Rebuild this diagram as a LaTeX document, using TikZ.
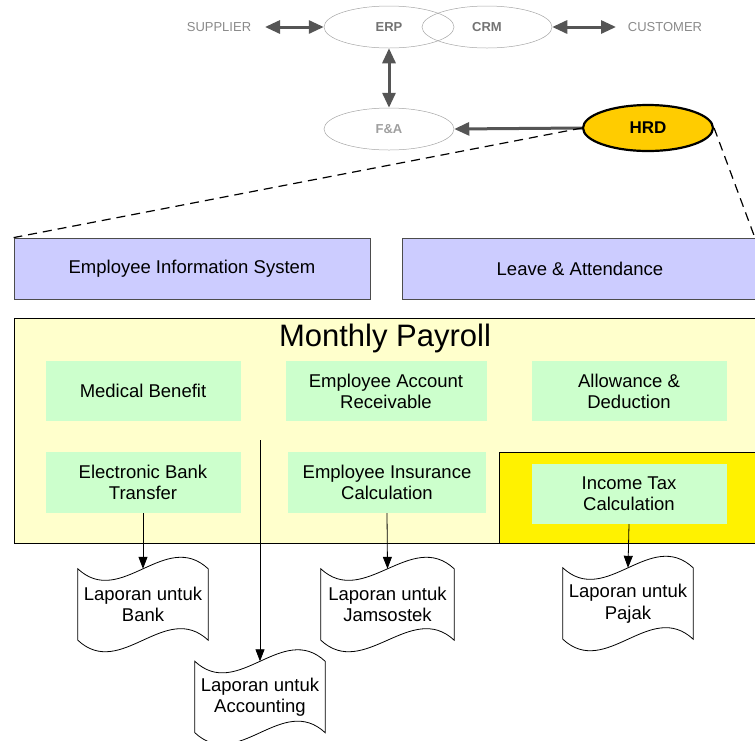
\documentclass[tikz,border=0pt]{standalone}
\usepackage{fontspec}
\setmainfont{Liberation Sans}
\usetikzlibrary{arrows.meta,shapes.geometric}
\definecolor{lav}{HTML}{CCCCFF}
\definecolor{cream}{HTML}{FFFFCC}
\definecolor{mint}{HTML}{CCFFCC}
\definecolor{gold}{HTML}{FFCC00}
\definecolor{txtgray}{HTML}{8A8A8A}
\definecolor{arrgray}{HTML}{555555}
\tikzset{
  sysell/.style={ellipse, draw=gray!70, line width=0.5pt, minimum width=130pt, minimum height=42pt, inner sep=0pt, text=gray!90!black, font=\fontsize{13}{15}\selectfont\bfseries},
  outer/.style={font=\fontsize{13}{15}\selectfont, text=txtgray},
  blockarrow/.style={line width=3pt, draw=arrgray, {Triangle[width=13pt,length=15pt]}-{Triangle[width=13pt,length=15pt]}},
  singleblock/.style={line width=3pt, draw=arrgray, -{Triangle[width=13pt,length=15pt]}},
  modbox/.style={draw=black!70, line width=0.8pt, fill=lav, font=\fontsize{18.5}{21}\selectfont, inner sep=0pt},
  greenbox/.style={fill=mint, font=\fontsize{18.5}{21}\selectfont, align=center, inner sep=0pt, minimum width=195pt, minimum height=60pt},
  doctext/.style={inner sep=0pt, minimum width=130pt, minimum height=71pt},
  doclabel/.style={font=\fontsize{18.5}{21.5}\selectfont, align=center},
  docline/.style={draw=black, line width=0.8pt, fill=white},
  flow/.style={draw=black, line width=0.8pt, -{Triangle[width=9pt,length=12pt]}},
  dashline/.style={draw=black, line width=1.2pt, dash pattern=on 9pt off 6pt},
}
\newcommand\tapedraw[1]{%
  \path[docline] (#1.north west) .. controls +(43,40) and +(-43,-40) .. (#1.north east)
    -- (#1.south east) .. controls +(-43,-40) and +(43,40) .. (#1.south west) -- cycle;}
\begin{document}
\begin{tikzpicture}[x=1pt,y=-1pt]
\useasboundingbox (0,0) rectangle (755,740);
% top ERP area
\node[outer] (sup) at (219,27) {SUPPLIER};
\node[outer] (cus) at (665,27) {CUSTOMER};
\node[sysell] (erp) at (389,27) {ERP};
\node[sysell] (crm) at (487,27) {CRM};
\node[sysell, text=gray!75] (fa) at (389,129) {F\&A};
\node[ellipse, draw=black, line width=2.2pt, fill=gold, minimum width=130pt, minimum height=46pt, inner sep=0pt, font=\fontsize{17}{20}\selectfont\bfseries] (hrd) at (648,128) {HRD};
\coordinate (supR) at (265,27);
\coordinate (cusL) at (616,27);
\draw[blockarrow] (supR) -- (erp.west);
\draw[blockarrow] (crm.east) -- (cusL);
\draw[blockarrow] (erp.south) -- (fa.north);
\draw[singleblock] (hrd.west) -- (fa.east);
% modules
\node[modbox, minimum width=356pt, minimum height=61pt] (eis) at (192,268.5) {Employee Information System};
\node[modbox, minimum width=360pt, minimum height=61pt, anchor=west] (lva) at (402,268.5) {};
\node[font=\fontsize{18.5}{21}\selectfont] (lvat) at (580,268.5) {Leave \& Attendance};
\draw[dashline] (hrd.west) -- (eis.north west);
\coordinate (lvtop) at (755,238);
\draw[dashline] (hrd.east) -- (lvtop);
% payroll
\node[draw=black, line width=1pt, fill=cream, minimum width=750pt, minimum height=225pt, anchor=north west, inner sep=0pt] (pay) at (14,318) {};
\node[draw=black, line width=1pt, fill=yellow, minimum width=262pt, minimum height=91pt, anchor=north west, inner sep=0pt] (ytax) at (499,452) {};
\node[font=\fontsize{31}{34}\selectfont] (payt) at (385,338) {Monthly Payroll};
\node[greenbox] (med) at (143,391) {Medical Benefit};
\node[greenbox, minimum width=201pt] (ear) at (386,391) {Employee Account\\Receivable};
\node[greenbox] (alw) at (629,391) {Allowance \&\\Deduction};
\node[greenbox, minimum height=61pt] (ebt) at (143,482.5) {Electronic Bank\\Transfer};
\node[greenbox, minimum width=198pt, minimum height=61pt] (eic) at (387,482.5) {Employee Insurance\\Calculation};
\node[greenbox] (itc) at (629,494) {Income Tax\\Calculation};
% documents
\node[doctext] (bank) at (143,604.5) {};
\node[doctext, minimum width=133pt] (jam) at (387.5,604.5) {};
\node[doctext] (paj) at (628,603.5) {};
\node[doctext] (acc) at (260,697) {};
\tapedraw{bank}\tapedraw{jam}\tapedraw{paj}\tapedraw{acc}
\node[doclabel] (bankt) at (bank) {Laporan untuk\\Bank};
\node[doclabel] (jamt) at (jam) {Laporan untuk\\Jamsostek};
\node[doclabel] (pajt) at (paj) {Laporan untuk\\Pajak};
\node[doclabel] (acct) at (acc) {Laporan untuk\\Accounting};
% connectors
\draw[flow] (ebt.south) -- (bank.north);
\draw[flow] (eic.south) -- (jam.north);
\draw[flow] (itc.south) -- (paj.north);
\coordinate (accstart) at (260,440);
\draw[flow] (accstart) -- (acc.north);
\end{tikzpicture}
\end{document}
